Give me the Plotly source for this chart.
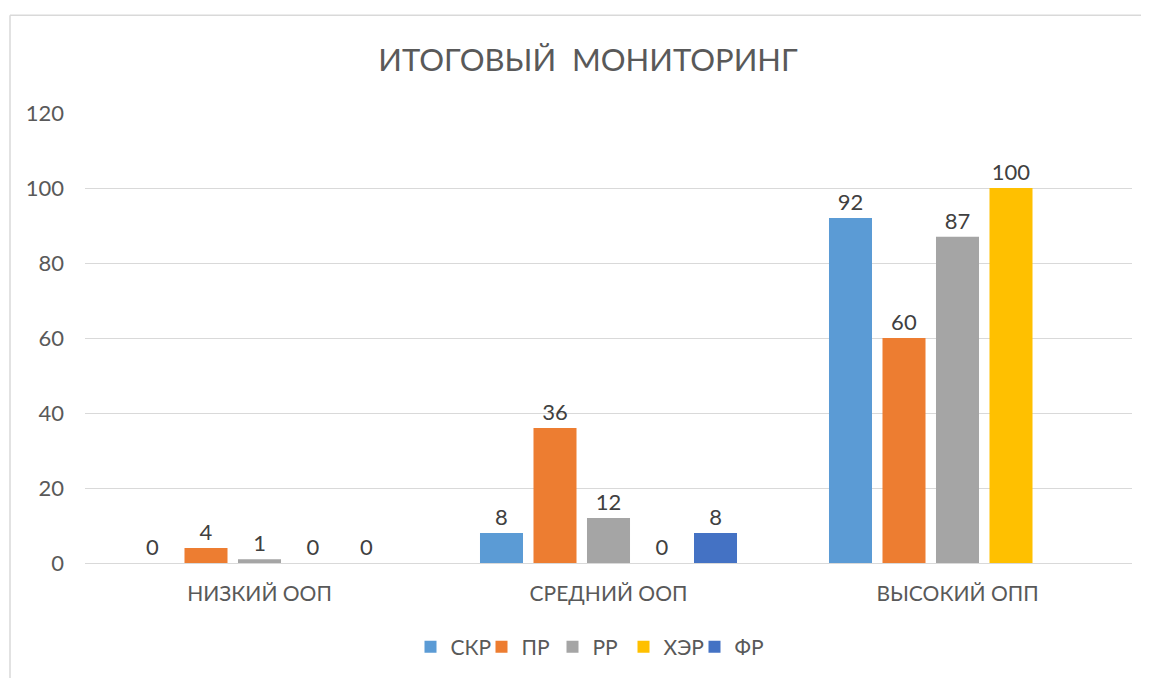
import plotly.graph_objects as go

categories = ["НИЗКИЙ ООП", "СРЕДНИЙ ООП", "ВЫСОКИЙ ОПП"]
series_names = ["СКР", "ПР", "РР", "ХЭР", "ФР"]
skr = [0, 8, 92]
pr = [4, 36, 60]
rr = [1, 12, 87]
xer = [0, 0, 100]
fr = [0, 8, None]
series_values = [skr, pr, rr, xer, fr]
colors = ["#5B9BD5", "#ED7D31", "#A5A5A5", "#FFC000", "#4472C4"]
y_ticks = [0, 20, 40, 60, 80, 100, 120]

FONT = "Lato"
OFF = 8  # page body margin
W, H = 1149 - OFF, 678 - OFF
L, T = 85 - OFF, 113 - OFF
R = W - (1132 - OFF)
B = H - (564 - OFF)
pw, ph = W - L - R, H - T - B

fig = go.Figure()
for name, vals, col in zip(series_names, series_values, colors):
    fig.add_trace(go.Bar(
        name=name, x=categories, y=vals,
        marker=dict(color=col, line=dict(width=0)),
        text=[None if v is None else str(v) for v in vals],
        textposition="outside",
        textfont=dict(family=FONT, size=22, color="#404040"),
        cliponaxis=False,
    ))

def px_x(x):
    return (x - OFF - L) / pw

def px_y(y):
    return (H - B - (y - OFF)) / ph

fig.update_layout(
    width=W, height=H,
    margin=dict(l=L, r=R, t=T, b=B),
    paper_bgcolor="white", plot_bgcolor="white",
    barmode="group", bargap=0.2335, bargroupgap=0.196,
    font=dict(family=FONT, size=22, color="#595959"),
    title=dict(text="ИТОГОВЫЙ  МОНИТОРИНГ", x=px_x(588), xref="paper", xanchor="center",
               y=1 - (60 - OFF) / H, yanchor="middle",
               font=dict(family=FONT, size=31, color="#595959")),
    showlegend=True,
    legend=dict(orientation="h", x=px_x(588), xanchor="center", y=px_y(647), yanchor="middle",
                font=dict(family=FONT, size=21, color="#595959"),
                itemwidth=30, traceorder="normal",
                entrywidth=26, entrywidthmode="pixels"),
    xaxis=dict(showgrid=False, showline=False, ticks="", ticklabelstandoff=16,
               tickfont=dict(family=FONT, size=21, color="#595959")),
    yaxis=dict(range=[0, 120], tickvals=y_ticks, showgrid=True, gridcolor="#D9D9D9", gridwidth=1.3,
               zeroline=True, zerolinecolor="#D9D9D9", zerolinewidth=1.3, showline=False,
               ticks="", ticklabelstandoff=20,
               tickfont=dict(family=FONT, size=22, color="#595959")),
    shapes=[
        dict(type="line", xref="paper", yref="paper", x0=px_x(10), x1=px_x(1160), y0=px_y(15), y1=px_y(15),
             line=dict(color="#D9D9D9", width=1.5)),
        dict(type="line", xref="paper", yref="paper", x0=px_x(10), x1=px_x(10), y0=px_y(15), y1=px_y(690),
             line=dict(color="#D9D9D9", width=1.5)),
    ],
)

fig.write_html("out.html")
